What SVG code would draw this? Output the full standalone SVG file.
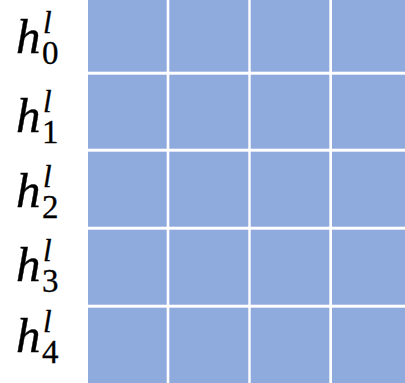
<svg xmlns="http://www.w3.org/2000/svg" width="405" height="383" viewBox="0 0 405 383">
<style>
.c{fill:#8FAADC}
.h{font-family:"Liberation Serif","DejaVu Serif",serif;font-style:italic;font-size:49px;fill:#000;stroke:#000;stroke-width:0.4}
.sup{font-family:"Liberation Serif","DejaVu Serif",serif;font-style:italic;font-size:31px;fill:#000;stroke:#000;stroke-width:0.3}
.sub{font-family:"Liberation Serif","DejaVu Serif",serif;font-style:normal;font-size:33px;fill:#000;stroke:#000;stroke-width:0.3}
</style>
<rect width="405" height="383" fill="#fff"/>
<g id="row0">
<rect class="c" x="88" y="0" width="78.7" height="71.7"/>
<rect class="c" x="169.3" y="0" width="79" height="71.7"/>
<rect class="c" x="250.7" y="0" width="78.6" height="71.7"/>
<rect class="c" x="332" y="0" width="73" height="71.7"/>
<text class="h" x="16" y="53">h</text><text class="sup" x="43" y="33">l</text><text class="sub" x="42" y="64">0</text>
</g>
<g id="row1">
<rect class="c" x="88" y="74.7" width="78.7" height="74"/>
<rect class="c" x="169.3" y="74.7" width="79" height="74"/>
<rect class="c" x="250.7" y="74.7" width="78.6" height="74"/>
<rect class="c" x="332" y="74.7" width="73" height="74"/>
<text class="h" x="16" y="132">h</text><text class="sup" x="43" y="112">l</text><text class="sub" x="42" y="143">1</text>
</g>
<g id="row2">
<rect class="c" x="88" y="151.7" width="78.7" height="75"/>
<rect class="c" x="169.3" y="151.7" width="79" height="75"/>
<rect class="c" x="250.7" y="151.7" width="78.6" height="75"/>
<rect class="c" x="332" y="151.7" width="73" height="75"/>
<text class="h" x="16" y="207">h</text><text class="sup" x="43" y="187">l</text><text class="sub" x="42" y="218">2</text>
</g>
<g id="row3">
<rect class="c" x="88" y="229.7" width="78.7" height="75"/>
<rect class="c" x="169.3" y="229.7" width="79" height="75"/>
<rect class="c" x="250.7" y="229.7" width="78.6" height="75"/>
<rect class="c" x="332" y="229.7" width="73" height="75"/>
<text class="h" x="16" y="281">h</text><text class="sup" x="43" y="261">l</text><text class="sub" x="42" y="292">3</text>
</g>
<g id="row4">
<rect class="c" x="88" y="307.7" width="78.7" height="75.3"/>
<rect class="c" x="169.3" y="307.7" width="79" height="75.3"/>
<rect class="c" x="250.7" y="307.7" width="78.6" height="75.3"/>
<rect class="c" x="332" y="307.7" width="73" height="75.3"/>
<text class="h" x="16" y="352">h</text><text class="sup" x="43" y="332">l</text><text class="sub" x="42" y="363">4</text>
</g>
<g id="connectors"/>
</svg>
